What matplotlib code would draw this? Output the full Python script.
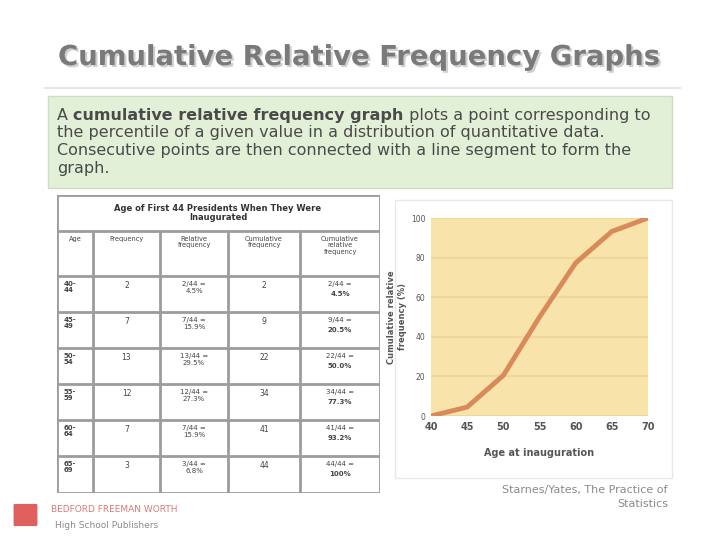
import matplotlib
matplotlib.use("Agg")
import matplotlib.pyplot as plt
import matplotlib.patheffects as pe
from matplotlib.patches import Rectangle, FancyBboxPatch

# ---- data ----
age_groups = ["40-44", "45-49", "50-54", "55-59", "60-64", "65-69"]
frequency = [2, 7, 13, 12, 7, 3]
rel_freq = ["4.5%", "15.9%", "29.5%", "27.3%", "15.9%", "6.8%"]
cum_freq = [2, 9, 22, 34, 41, 44]
cum_rel = ["4.5%", "20.5%", "50.0%", "77.3%", "93.2%", "100%"]
total = 44
col_headers = ["Age", "Frequency", "Relative\nfrequency", "Cumulative\nfrequency",
               "Cumulative\nrelative\nfrequency"]

graph_ages = [40, 45, 50, 55, 60, 65, 70]
graph_cum_pct = [0, 4.5, 20.5, 50.0, 77.3, 93.2, 100]
x_ticks = [40, 45, 50, 55, 60, 65, 70]
y_ticks = [0, 20, 40, 60, 80, 100]

W, H = 720, 540
fig = plt.figure(figsize=(7.2, 5.4), dpi=100)
fig.patch.set_facecolor("white")

def px_axes(x, y, w, h, **kw):
    return fig.add_axes([x / W, 1 - (y + h) / H, w / W, h / H], **kw)

def fx(x):
    return x / W

def fy(y):
    return 1 - y / H

# ---- title ----
fig.text(fx(358), fy(57), "Cumulative Relative Frequency Graphs", ha="center", va="center",
         fontsize=19.8, fontweight="bold", color="#7a7a7a",
         path_effects=[pe.withSimplePatchShadow(offset=(1.5, -1.5), shadow_rgbFace="#bbbbbb", alpha=0.7)])
fig.add_artist(plt.Line2D([fx(45), fx(680)], [fy(88), fy(88)], color="#e6e6e6", lw=1.5))

# ---- green definition box ----
fig.add_artist(Rectangle((fx(48), fy(188)), fx(672) - fx(48), fy(96) - fy(188),
                         facecolor="#e3f0d8", edgecolor="#d0dcc6", lw=1,
                         transform=fig.transFigure, zorder=-1))
body_lines = [
    [("A ", "normal"), ("cumulative relative frequency graph", "bold"),
     (" plots a point corresponding to", "normal")],
    [("the percentile of a given value in a distribution of quantitative data.", "normal")],
    [("Consecutive points are then connected with a line segment to form the", "normal")],
    [("graph.", "normal")],
]
renderer = fig.canvas.get_renderer()
for i, parts in enumerate(body_lines):
    xcur = 57
    for txt, wgt in parts:
        t = fig.text(fx(xcur), fy(115 + i * 17.8), txt, ha="left", va="center",
                     fontsize=11.5, fontweight=wgt, color="#4a4a4a")
        bb = t.get_window_extent(renderer=renderer)
        xcur += bb.width

# ---- table ----
tab = px_axes(57, 195, 323, 298)
tab.set_xlim(57, 380)
tab.set_ylim(493, 195)
tab.axis("off")
col_x = [57, 93, 160, 228, 300, 380]
row_y = [195, 231, 276, 312, 348, 384, 420, 456, 493]
lc = "#9c9c9c"
tab.add_patch(Rectangle((57, 195), 323, 298, fill=False, edgecolor=lc, lw=2))
for yy in row_y[1:-1]:
    tab.plot([57, 380], [yy, yy], color=lc, lw=2)
for xx in col_x[1:-1]:
    tab.plot([xx, xx], [231, 493], color=lc, lw=2)
tab.text(218, 213, "Age of First 44 Presidents When They Were\nInaugurated", ha="center",
         va="center", fontsize=6, fontweight="bold", color="#333333", linespacing=1.1)
for j, h in enumerate(col_headers):
    tab.text((col_x[j] + col_x[j + 1]) / 2, 236, h, ha="center", va="top",
             fontsize=4.8, color="#444444", linespacing=1.05)
for i in range(len(age_groups)):
    top = row_y[i + 2]
    a, b = age_groups[i].split("-")
    tab.text(64, top + 5, a + "-\n" + b, ha="left", va="top", fontsize=5, color="#444444",
             fontweight="bold", linespacing=1.0)
    tab.text((col_x[1] + col_x[2]) / 2, top + 5, str(frequency[i]), ha="center", va="top",
             fontsize=5.5, color="#444444")
    tab.text((col_x[2] + col_x[3]) / 2, top + 5, f"{frequency[i]}/{total} =\n{rel_freq[i]}",
             ha="center", va="top", fontsize=5, color="#444444", linespacing=1.2)
    tab.text((col_x[3] + col_x[4]) / 2, top + 5, str(cum_freq[i]), ha="center", va="top",
             fontsize=5.5, color="#444444")
    tab.text((col_x[4] + col_x[5]) / 2, top + 5, f"{cum_freq[i]}/{total} =",
             ha="center", va="top", fontsize=5, color="#444444")
    tab.text((col_x[4] + col_x[5]) / 2, top + 15, cum_rel[i],
             ha="center", va="top", fontsize=5, color="#444444", fontweight="bold")

# ---- graph panel ----
fig.add_artist(Rectangle((fx(395), fy(478)), fx(672) - fx(395), fy(200) - fy(478),
                         facecolor="white", edgecolor="#e8e8e8", lw=1,
                         transform=fig.transFigure, zorder=-1))
ax = px_axes(431, 218, 217, 198)
ax.set_facecolor("#f8e4aa")
ax.plot(graph_ages, graph_cum_pct, color="#d98a5a", lw=3.5, solid_capstyle="round",
        solid_joinstyle="round", zorder=3)
ax.set_xlim(40, 70)
ax.set_ylim(0, 100)
ax.set_xticks(x_ticks)
ax.set_yticks(y_ticks)
ax.set_xticklabels([str(v) for v in x_ticks], fontsize=7, fontweight="bold", color="#555555")
ax.set_yticklabels([str(v) for v in y_ticks], fontsize=5.5, color="#555555")
ax.tick_params(length=0, pad=4)
for s in ax.spines.values():
    s.set_visible(False)
ax.grid(axis="y", color="#efd79a", lw=1.5)
ax.set_axisbelow(True)
ax.set_xlabel("Age at inauguration", fontsize=7, fontweight="bold", color="#555555", labelpad=12)
ax.set_ylabel("Cumulative relative\nfrequency (%)", fontsize=6, fontweight="bold",
              color="#555555", labelpad=3, linespacing=1.3)

# ---- footer ----
fig.text(fx(668), fy(497), "Starnes/Yates, The Practice of\nStatistics", ha="right", va="center",
         fontsize=8, color="#8a8a8a", linespacing=1.4, multialignment="right")
fig.add_artist(FancyBboxPatch((fx(15), fy(525)), fx(21), fy(505) - fy(525),
                              boxstyle="round,pad=0.002", facecolor="#e06060", edgecolor="none",
                              transform=fig.transFigure))
fig.text(fx(51), fy(509), "BEDFORD FREEMAN WORTH", ha="left", va="center", fontsize=6.5,
         color="#d87a7a")
fig.text(fx(55), fy(526), "High School Publishers", ha="left", va="center", fontsize=6.5,
         color="#8a8a8a")

fig.savefig("out.png", dpi=100)
